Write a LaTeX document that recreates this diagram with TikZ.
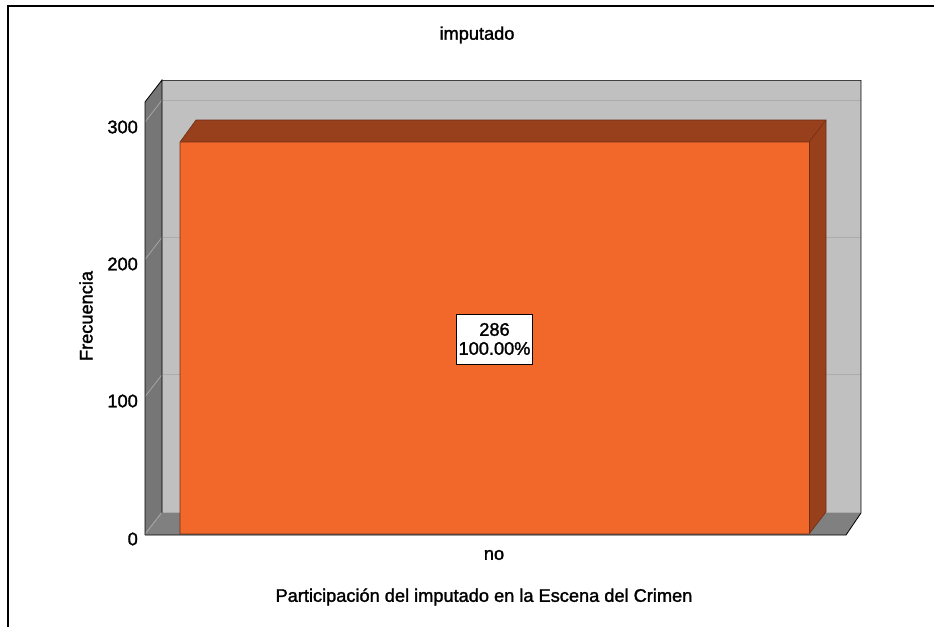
\documentclass[tikz,border=0pt]{standalone}
\usepackage{fontspec}
\setmainfont{Liberation Sans}[FakeBold=1.5]
\definecolor{barfront}{RGB}{242,104,42}
\definecolor{barside}{RGB}{152,64,28}
\definecolor{barline}{RGB}{110,45,20}
\definecolor{backwall}{RGB}{192,192,192}
\definecolor{sidewall}{RGB}{118,118,118}
\definecolor{floorc}{RGB}{128,128,128}
\definecolor{gridback}{RGB}{172,172,172}
\definecolor{gridside}{RGB}{165,165,165}
\tikzset{
  lbl/.style={font=\fontsize{18.2}{20}\selectfont, inner sep=0pt},
  ticklbl/.style={lbl, anchor=east},
  valbox/.style={draw=black, line width=0.8pt, fill=white, font=\fontsize{18.2}{19}\selectfont, align=center, inner sep=2pt, minimum width=75pt, minimum height=50pt},
  wallline/.style={draw=black, line width=0.8pt}
}
\begin{document}
\begin{tikzpicture}[x=1pt,y=-1pt]
\useasboundingbox (0,0) rectangle (934,627);
% outer frame
\draw[line width=2pt] (8.3,627) -- (8.3,6) -- (934,6);
% back wall
\fill[backwall] (162,80) rectangle (861,513);
% left wall
\fill[sidewall] (145,102) -- (162,80) -- (162,513) -- (145,535) -- cycle;
% floor
\fill[floorc] (145,535) -- (162,513) -- (861,513) -- (846,535) -- cycle;
% grid lines
\foreach \v in {100,200,300}{
  \pgfmathsetmacro{\yy}{534-1.373*\v}
  \draw[gridside, line width=0.8pt] (145,\yy) -- (162,\yy-22);
  \draw[gridback, line width=1pt] (162,\yy-22) -- (861,\yy-22);
}
\draw[gridside, line width=0.8pt] (145,534) -- (162,512);
\draw[gridback, line width=1pt] (162,512) -- (861,512);
% wall outlines
\draw[line width=0.8pt, black!75] (162,80) -- (861,80);
\draw[wallline] (145,535) -- (145,102) -- (162,80) -- (162,513);
\draw[wallline] (861,80) -- (861,513) -- (846,535) -- (145,535);
% bar
\fill[barside] (180,142) -- (196,120) -- (826,120) -- (809,142) -- cycle;
\fill[barside] (809,142) -- (826,120) -- (826,512) -- (809,534) -- cycle;
\fill[barfront] (180,142) rectangle (809,534);
\draw[barline, line width=0.6pt] (180,534) -- (180,142) -- (196,120) -- (826,120) -- (826,512) -- (809,534) -- cycle;
\draw[barline, line width=0.6pt] (180,142) -- (809,142) -- (826,120);
\draw[barline, line width=0.6pt] (809,142) -- (809,534);
% value label
\node[valbox] (val) at (494.5,339) {286\\100.00\%};
% tick labels
\node[ticklbl] (t300) at (138,127) {300};
\node[ticklbl] (t200) at (138,264) {200};
\node[ticklbl] (t100) at (138,401) {100};
\node[ticklbl] (t0) at (138,539) {0};
% titles
\node[lbl] (title) at (477,35) {imputado};
\node[lbl, rotate=90] (ytitle) at (86,316) {Frecuencia};
\node[lbl] (cat) at (494,555) {no};
\node[lbl] (xtitle) at (484,597) {Participación del imputado en la Escena del Crimen};
\end{tikzpicture}
\end{document}
